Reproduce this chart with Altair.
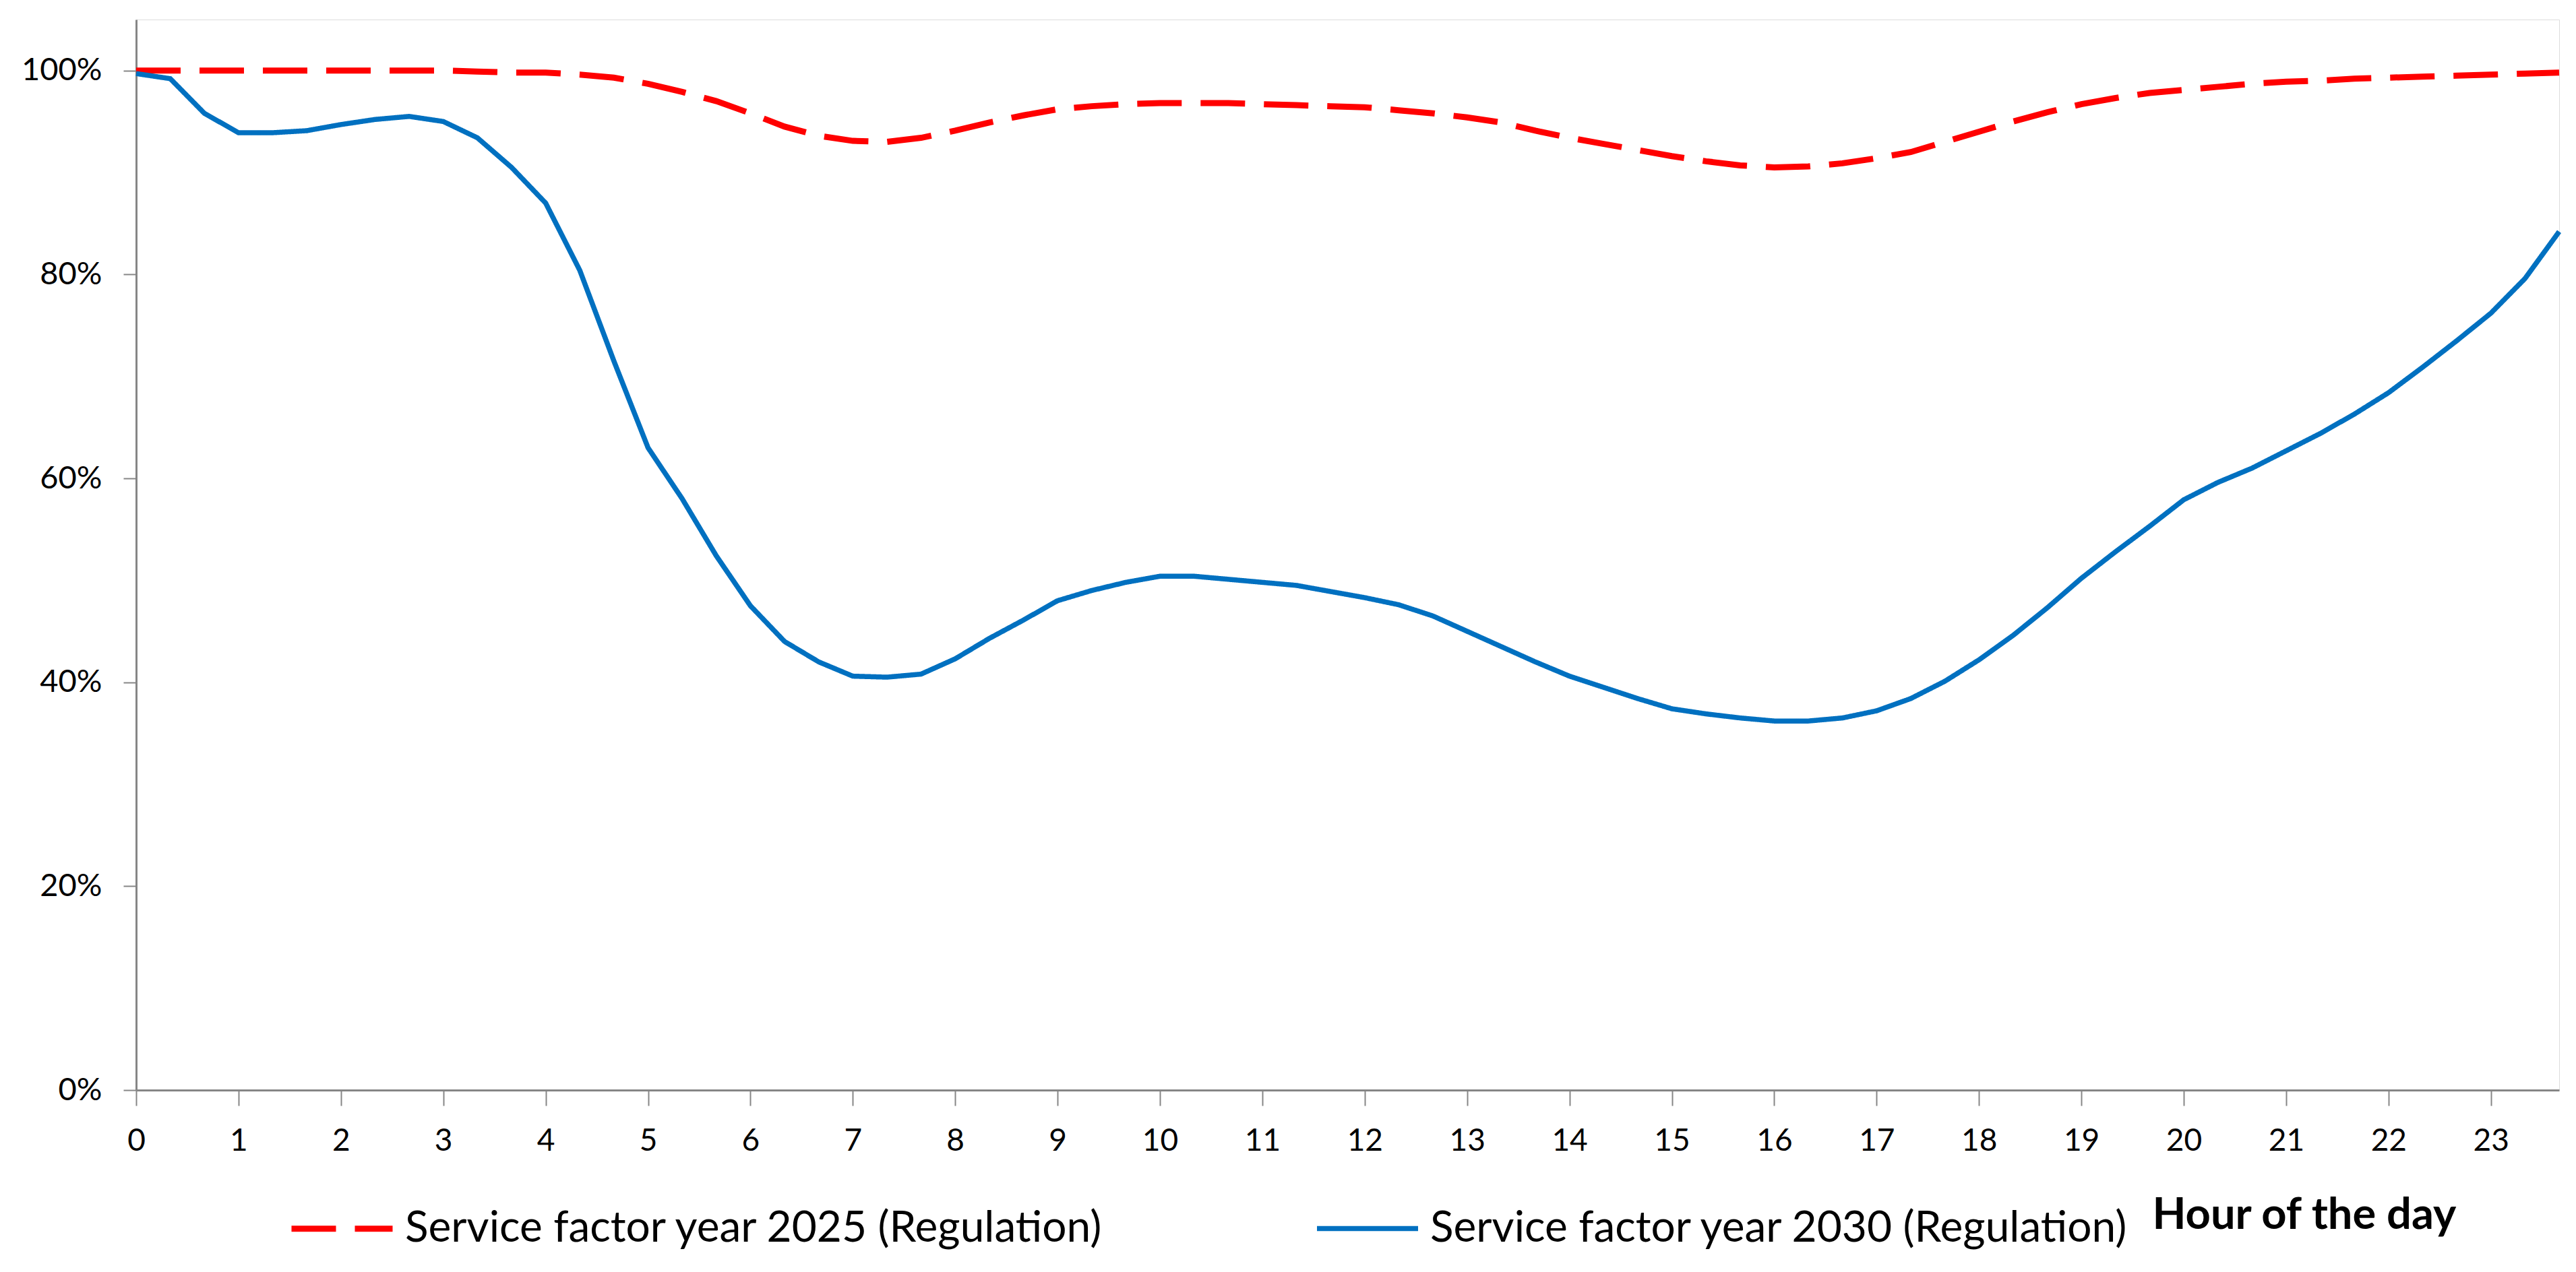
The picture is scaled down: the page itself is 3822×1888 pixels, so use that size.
import altair as alt
import pandas as pd

# minutes after midnight (20-minute categories)
minutes = [0, 20, 40, 60, 80, 100, 120, 140, 160, 180, 200, 220,
           240, 260, 280, 300, 320, 340, 360, 380, 400, 420, 440, 460,
           480, 500, 520, 540, 560, 580, 600, 620, 640, 660, 680, 700,
           720, 740, 760, 780, 800, 820, 840, 860, 880, 900, 920, 940,
           960, 980, 1000, 1020, 1040, 1060, 1080, 1100, 1120, 1140, 1160, 1180,
           1200, 1220, 1240, 1260, 1280, 1300, 1320, 1340, 1360, 1380, 1400, 1420]

sf_2025 = [100, 100, 100, 100, 100, 100, 100, 100, 100, 100, 99.9, 99.8,
           99.8, 99.6, 99.3, 98.7, 97.9, 97.0, 95.8, 94.5, 93.6, 93.1, 93.0, 93.4,
           94.1, 94.9, 95.6, 96.2, 96.5, 96.7, 96.8, 96.8, 96.8, 96.7, 96.6, 96.5,
           96.4, 96.1, 95.8, 95.4, 94.9, 94.1, 93.4, 92.8, 92.2, 91.6, 91.1, 90.7,
           90.5, 90.6, 90.9, 91.4, 92.0, 93.0, 94.0, 95.0, 95.9, 96.7, 97.3, 97.8,
           98.1, 98.4, 98.7, 98.9, 99.0, 99.2, 99.3, 99.4, 99.5, 99.6, 99.7, 99.8]

sf_2030 = [99.7, 99.2, 95.8, 93.9, 93.9, 94.1, 94.7, 95.2, 95.5, 95.0, 93.4, 90.5,
           87.0, 80.4, 71.5, 63.0, 58.0, 52.4, 47.5, 44.0, 42.0, 40.6, 40.5, 40.8,
           42.3, 44.3, 46.1, 48.0, 49.0, 49.8, 50.4, 50.4, 50.1, 49.8, 49.5, 48.9,
           48.3, 47.6, 46.5, 45.0, 43.5, 42.0, 40.6, 39.5, 38.4, 37.4, 36.9, 36.5,
           36.2, 36.2, 36.5, 37.2, 38.4, 40.1, 42.2, 44.6, 47.3, 50.2, 52.8, 55.3,
           57.9, 59.6, 61.0, 62.7, 64.4, 66.3, 68.4, 70.9, 73.5, 76.2, 79.6, 84.2]

series_names = ["Service factor year 2025 (Regulation)",
                "Service factor year 2030 (Regulation)"]
series_colors = ["#FF0000", "#0070C0"]
series_widths = [9, 7.5]
hour_ticks = list(range(24))
pct_ticks = [0, 0.2, 0.4, 0.6, 0.8, 1.0]

rows = []
for name, vals in zip(series_names, [sf_2025, sf_2030]):
    for m, v in zip(minutes, vals):
        rows.append({"series": name, "hour": m / 60.0, "value": v / 100.0})
df = pd.DataFrame(rows)

FONT = "Lato"

legend_props = dict(orient="none", direction="horizontal",
                    legendX=226, legendY=1715,
                    symbolType="stroke", symbolSize=22500,
                    symbolStrokeWidth=9,
                    labelFont=FONT, labelFontSize=64,
                    labelColor="#000000", labelOffset=14,
                    labelLimit=2000, columnPadding=300)

chart = alt.Chart(df).mark_line(clip=False).encode(
    x=alt.X("hour:Q",
            scale=alt.Scale(domain=[0, minutes[-1] / 60.0], nice=False, zero=False),
            axis=alt.Axis(values=hour_ticks, format="d", title="Hour of the day",
                          grid=False, domainColor="#868686", domainWidth=3,
                          tickColor="#868686", tickWidth=2, tickSize=23,
                          labelFont=FONT, labelFontSize=46, labelColor="#000000",
                          labelPadding=30, labelFlush=False, labelOverlap=False,
                          titleFont=FONT, titleFontSize=65, titleFontWeight="bold",
                          titleColor="#000000", titleAlign="left",
                          titleAnchor="start", titleBaseline="alphabetic",
                          titleX=2991, titleY=205)),
    y=alt.Y("value:Q",
            scale=alt.Scale(domain=[0, 1.05], nice=False),
            axis=alt.Axis(values=pct_ticks, format=".0%", title=None,
                          grid=False, domainColor="#868686", domainWidth=3,
                          tickColor="#868686", tickWidth=2, tickSize=19,
                          labelFont=FONT, labelFontSize=47, labelColor="#000000",
                          labelPadding=32, labelBaseline="middle")),
    color=alt.Color("series:N",
                    scale=alt.Scale(domain=series_names, range=series_colors),
                    title=None,
                    legend=alt.Legend(**legend_props)),
    strokeDash=alt.StrokeDash("series:N",
                              scale=alt.Scale(domain=series_names,
                                              range=[[66, 28], [1, 0]]),
                              title=None,
                              legend=alt.Legend(**legend_props)),
    strokeWidth=alt.StrokeWidth("series:N",
                                scale=alt.Scale(domain=series_names,
                                                range=series_widths),
                                legend=None),
    order=alt.Order("hour:Q"),
).properties(
    width=3595,
    height=1589,
    autosize=alt.AutoSizeParams(type="none"),
    padding={"left": 194, "top": 21, "right": 17, "bottom": 270},
).configure_view(stroke=None).configure(background="white")

chart.save("out.html", embed_options={"renderer": "svg", "actions": False})
